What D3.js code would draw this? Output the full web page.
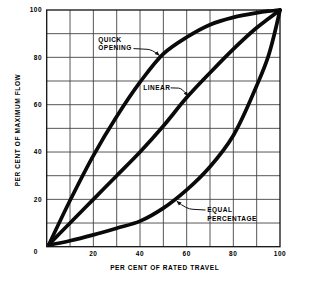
<!DOCTYPE html>
<html><head><meta charset="utf-8">
<script src="https://cdn.jsdelivr.net/npm/d3@7"></script>
<style>
html,body{margin:0;padding:0;background:#fff;}
svg{-webkit-font-smoothing:antialiased;}
text{font-family:"Liberation Sans",Arial,sans-serif;font-weight:bold;fill:#000;}
</style></head>
<body>
<svg id="c" width="309" height="287"></svg>
<script>
// Data (per cent of rated travel -> per cent of maximum flow)
const travel = [1, 10, 20, 30, 40, 50, 60, 70, 80, 90, 95, 100];
const quickOpening = [1, 19.5, 38.5, 55, 69.5, 81.5, 88.5, 93.8, 96.9, 98.8, 99.5, 100];
const linear = [1, 10, 20, 30, 40, 51, 63, 73.5, 83.5, 92.5, 96.3, 100];
const equalPercentage = [0.7, 2.5, 5, 7.8, 10.8, 16.3, 24, 33.8, 47, 68, 80.5, 100];
const xTicks = [20, 40, 60, 80, 100];
const yTicks = [20, 40, 60, 80, 100];
const gridValues = [10, 20, 30, 40, 50, 60, 70, 80, 90];
const xTitle = "PER CENT OF RATED TRAVEL";
const yTitle = "PER CENT OF MAXIMUM FLOW";
const annotations = [
  {lines: ["QUICK", "OPENING"], at: [22.1, 86.4], arrow: [[37.2, 83.7], [43, 83.4], [48.3, 80.8]]},
  {lines: ["LINEAR"], at: [41.4, 66.2], arrow: [[53.1, 67.1], [56.5, 67.0], [60.5, 63.6]]},
  {lines: ["EQUAL", "PERCENTAGE"], at: [68.8, 14.5], arrow: [[68.1, 15.5], [62.7, 15.8], [55.8, 19.2]]}
];

const svg = d3.select("#c");
const L = 46.7, R = 280, T = 10, B = 246.7;
const x = d3.scaleLinear().domain([0, 100]).range([L, R]);
const y = d3.scaleLinear().domain([0, 100]).range([B, T]);

const defs = svg.append("defs");
defs.append("marker").attr("id", "ah").attr("viewBox", "0 0 10 10")
  .attr("refX", 9).attr("refY", 5).attr("markerWidth", 5).attr("markerHeight", 5)
  .attr("orient", "auto").attr("markerUnits", "userSpaceOnUse")
  .append("path").attr("d", "M0,1 L10,5 L0,9 Z").attr("fill", "#111");

// grid
const g = svg.append("g");
g.selectAll(".gx").data(gridValues).join("line")
  .attr("x1", d => x(d)).attr("x2", d => x(d)).attr("y1", T).attr("y2", B)
  .attr("stroke", "#444").attr("stroke-width", 0.9);
g.selectAll(".gy").data(gridValues).join("line")
  .attr("y1", d => y(d)).attr("y2", d => y(d)).attr("x1", L).attr("x2", R)
  .attr("stroke", "#444").attr("stroke-width", 0.9);
g.append("rect").attr("x", L).attr("y", T).attr("width", R - L).attr("height", B - T)
  .attr("fill", "none").attr("stroke", "#111").attr("stroke-width", 1.3);

// tick labels
svg.selectAll(".xt").data(xTicks).join("text")
  .attr("x", d => x(d)).attr("y", 256.2).attr("text-anchor", "middle")
  .style("font-size", "6.5px").style("letter-spacing", "0.6px").text(d => d);
svg.selectAll(".yt").data(yTicks).join("text")
  .attr("x", 42.3).attr("y", d => y(d) + 2.3).attr("text-anchor", "end")
  .style("font-size", "6.5px").style("letter-spacing", "0.6px").text(d => d);
svg.append("text").attr("x", 35.6).attr("y", 254.4).attr("text-anchor", "middle")
  .style("font-size", "6.5px").text("0");

// axis titles
svg.append("text").attr("x", 164.7).attr("y", 270.3).attr("text-anchor", "middle")
  .style("font-size", "6.5px").style("letter-spacing", "0.6px").text(xTitle);
svg.append("text").attr("transform", "translate(20.2,130) rotate(-90)").attr("text-anchor", "middle")
  .style("font-size", "6.5px").style("letter-spacing", "0.6px").text(yTitle);

// curves
const line = d3.line().x(d => x(d[0])).y(d => y(d[1])).curve(d3.curveCatmullRom.alpha(0.5));
[quickOpening, linear, equalPercentage].forEach(s => {
  svg.append("path").datum(travel.map((t, i) => [t, s[i]]))
    .attr("d", line).attr("fill", "none").attr("stroke", "#0a0a0a")
    .attr("stroke-width", 3.7).attr("stroke-linecap", "round").attr("stroke-linejoin", "round");
});

// annotations
annotations.forEach(a => {
  a.lines.forEach((t, i) => {
    svg.append("text").attr("x", x(a.at[0])).attr("y", y(a.at[1]) + i * 8.2)
      .style("font-size", "6.5px").style("letter-spacing", "0.5px").text(t);
  });
  const p = a.arrow.map(d => [x(d[0]), y(d[1])]);
  svg.append("path")
    .attr("d", `M${p[0][0]},${p[0][1]} L${p[1][0]},${p[1][1]} Q${p[1][0] + (p[2][0] - p[1][0]) * 0.4},${p[1][1]} ${p[2][0]},${p[2][1]}`)
    .attr("fill", "none").attr("stroke", "#111").attr("stroke-width", 1)
    .attr("marker-end", "url(#ah)");
});
</script>
</body></html>
